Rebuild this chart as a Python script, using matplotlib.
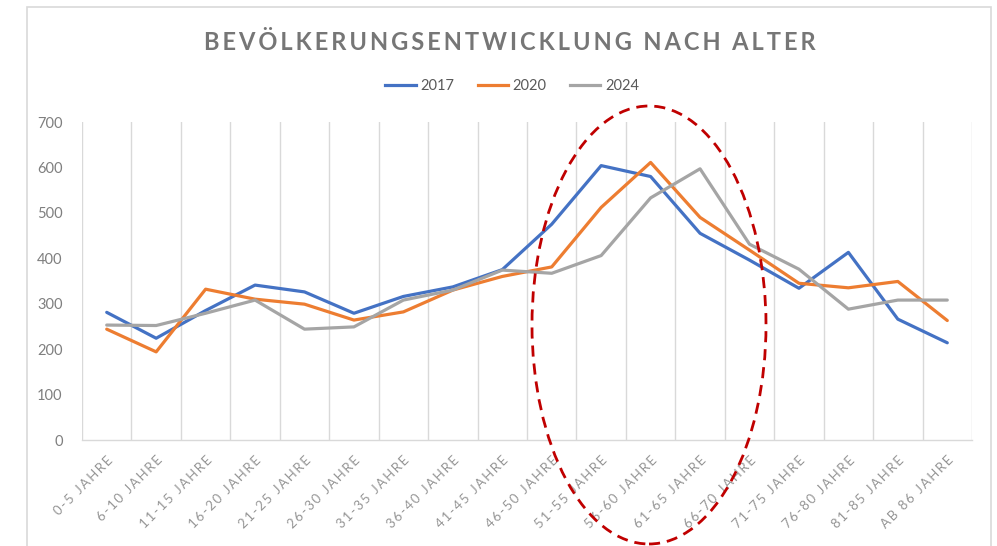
import matplotlib
matplotlib.use("Agg")
import matplotlib.pyplot as plt
from matplotlib.patches import Ellipse, Rectangle
from matplotlib.lines import Line2D

categories = ["0-5 JAHRE", "6-10 JAHRE", "11-15 JAHRE", "16-20 JAHRE", "21-25 JAHRE",
              "26-30 JAHRE", "31-35 JAHRE", "36-40 JAHRE", "41-45 JAHRE", "46-50 JAHRE",
              "51-55 JAHRE", "56-60 JAHRE", "61-65 JAHRE", "66-70 JAHRE", "71-75 JAHRE",
              "76-80 JAHRE", "81-85 JAHRE", "AB 86 JAHRE"]
v2017 = [281, 224, 285, 341, 326, 279, 316, 337, 375, 475, 604, 580, 455, 396, 334, 413, 266, 214]
v2020 = [244, 194, 332, 310, 299, 264, 282, 330, 360, 381, 512, 611, 490, 418, 345, 335, 349, 263]
v2024 = [253, 252, 279, 308, 244, 249, 308, 330, 374, 367, 406, 533, 597, 431, 376, 288, 308, 308]
series_names = ["2017", "2020", "2024"]
yticks = [0, 100, 200, 300, 400, 500, 600, 700]
title = "BEVÖLKERUNGSENTWICKLUNG NACH ALTER"

colors = ["#4472C4", "#ED7D31", "#A5A5A5"]
W, H = 997, 546
fig = plt.figure(figsize=(W / 100, H / 100), dpi=100)
fam = ["Lato", "DejaVu Sans"]

ax = fig.add_axes([82 / W, 1 - 440 / H, 890 / W, 318 / H])
x = list(range(len(categories)))
for vals, c, n in zip([v2017, v2020, v2024], colors, series_names):
    ax.plot(x, vals, color=c, lw=2.3, label=n, solid_capstyle="round", solid_joinstyle="round")

ax.set_xlim(-0.5, len(categories) - 0.5)
ax.set_ylim(0, 700)
for k in range(len(categories) + 1):
    ax.axvline(k - 0.5, color="#D9D9D9", lw=1.0, zorder=0)
for s in ["top", "right", "left"]:
    ax.spines[s].set_visible(False)
ax.spines["bottom"].set_color("#D9D9D9")
ax.spines["bottom"].set_linewidth(1.0)
ax.tick_params(length=0)
ax.set_yticks(yticks)
ax.set_yticklabels([str(t) for t in yticks], fontsize=10.5, color="#7F7F7F", family=fam)
ax.tick_params(axis="y", pad=14)
ax.set_xticks(x)
spaced = ["\u2009".join(c) for c in categories]
ax.set_xticklabels(spaced, rotation=45, ha="right", va="top", rotation_mode="anchor",
                   fontsize=9.5, color="#959595", family=fam)
ax.tick_params(axis="x", pad=10)

# title
fig.text(510 / W, 1 - 42 / H, "\u2009".join(title).replace("\u2009 \u2009", "  "),
         ha="center", va="center", fontsize=17, fontweight="bold", color="#767676", family=fam)

# legend
leg = fig.legend(handles=[Line2D([], [], color=c, lw=2.3) for c in colors], labels=series_names,
                 loc="center", bbox_to_anchor=(512 / W, 1 - 86 / H), ncol=3, frameon=False,
                 handlelength=2.1, handletextpad=0.3, columnspacing=1.6,
                 prop={"family": fam, "size": 10.5})
for t in leg.get_texts():
    t.set_color("#595959")

# chart frame
fig.add_artist(Rectangle((27 / W, -0.1), (991 - 27) / W, 1.1 - 7 / H, transform=fig.transFigure,
                         fill=False, edgecolor="#D9D9D9", lw=1.2))

# dashed ellipse highlight
fig.add_artist(Ellipse((649 / W, 1 - 325 / H), 234 / W, 438 / H, transform=fig.transFigure,
                       fill=False, edgecolor="#C00000", lw=2.0, linestyle=(0, (4, 2.5))))

fig.savefig("out.png", dpi=100)
